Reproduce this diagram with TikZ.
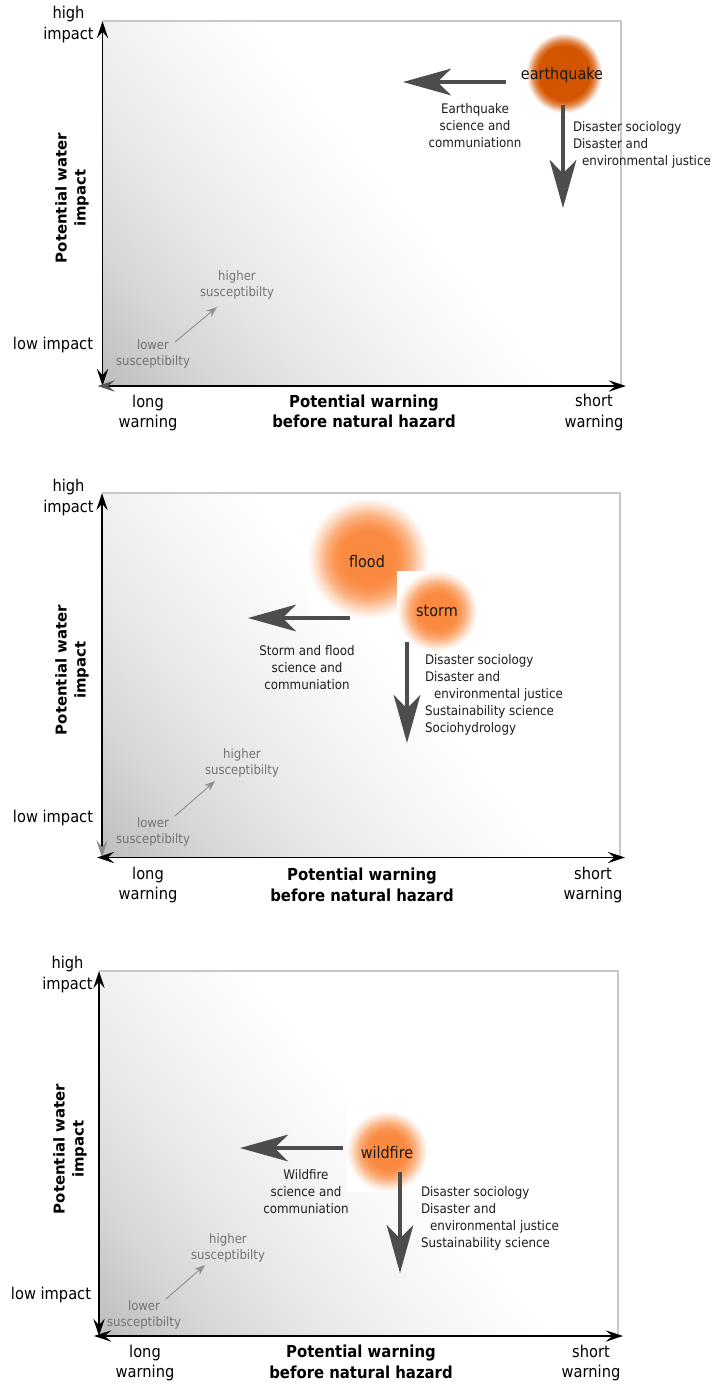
\documentclass[tikz,border=0pt]{standalone}
\usepackage{fontspec}
\setmainfont{DejaVu Sans}[FakeStretch=0.9]
\newfontfamily\widefont{DejaVu Sans}
\usetikzlibrary{arrows.meta}
\definecolor{quake}{RGB}{212,85,0}
\definecolor{fire}{RGB}{250,138,64}
\definecolor{bgA}{gray}{0.74}
\definecolor{bgB}{gray}{0.84}
\definecolor{bgC}{gray}{0.91}
\definecolor{bgD}{gray}{0.96}
\definecolor{framegray}{RGB}{200,200,200}
\definecolor{bigarrow}{RGB}{77,77,77}
\definecolor{susgray}{RGB}{115,115,115}
\definecolor{desctext}{RGB}{30,30,30}
\definecolor{tipgrayA}{RGB}{85,85,85}
\definecolor{tipgrayB}{RGB}{140,140,140}
\pgfdeclarehorizontalshading{bgfade}{100bp}{color(0bp)=(bgA); color(50bp)=(bgA); color(54bp)=(bgB); color(58bp)=(bgC); color(62bp)=(bgD); color(66bp)=(white); color(100bp)=(white)}
\pgfdeclareradialshading{quakeblob}{\pgfpoint{0bp}{0bp}}{color(0bp)=(quake); color(17bp)=(quake); color(20bp)=(quake!75!white); color(23bp)=(quake!30!white); color(25bp)=(white); color(50bp)=(white)}
\pgfdeclareradialshading{fireblob}{\pgfpoint{0bp}{0bp}}{color(0bp)=(fire); color(11bp)=(fire); color(14bp)=(fire!90!white); color(18bp)=(fire!65!white); color(21bp)=(fire!35!white); color(24bp)=(fire!10!white); color(25.5bp)=(white); color(50bp)=(white)}
\tikzset{
  every node/.style={inner sep=0pt, outer sep=0pt},
  tick/.style={font=\fontsize{12.2pt}{15.5pt}\selectfont, align=center, text=black},
  axtitle/.style={font=\fontsize{12.4pt}{15.4pt}\selectfont\bfseries, align=center, text=black},
  ytitle/.style={font=\widefont\fontsize{11.2pt}{14.2pt}\selectfont\bfseries, align=center, text=black, rotate=90},
  desc/.style={font=\fontsize{9.9pt}{12.75pt}\selectfont, text=desctext},
  sus/.style={font=\fontsize{9.75pt}{12pt}\selectfont, text=susgray, align=center},
  hazard/.style={font=\fontsize{12pt}{14pt}\selectfont, text=black!90},
  axisline/.style={line width=1.1pt, draw=black},
  frameline/.style={draw=framegray, line width=1.1pt},
  bigarr/.style={draw=bigarrow, line width=2.4pt, -{Stealth[length=36pt,width=20pt,inset=10pt]}},
  susarr/.style={draw=susgray!80, line width=0.7pt, -{Stealth[length=8pt,width=6pt,inset=2.5pt]}},
}
\newcommand{\axtip}[1]{Stealth[length=13pt,width=8.5pt,inset=5pt,color=#1]}
\begin{document}
\begin{tikzpicture}[x=0.75pt, y=-0.75pt]
\useasboundingbox (0,0) rectangle (713,1384);
\fill[white] (0,0) rectangle (713,1384);

% ================= Panel 1 =================
\begin{scope}
\clip (102.5,21) rectangle (621,386);
\shade[shading=bgfade, shading angle=40] (-447.5,-164) rectangle (652.5,936);
\end{scope}
\draw[frameline] (102.5,21) -- (621,21) -- (621,386);
\coordinate (p1yb) at (102.5,386);
\coordinate (p1yt) at (102.5,21);
\coordinate (p1xl) at (97.5,386);
\coordinate (p1xr) at (626,386);
\draw[axisline, {\axtip{black}}-{\axtip{black}}] (p1yb) -- (p1yt);
\draw[axisline, {\axtip{tipgrayA}}-{\axtip{black}}] (p1xl) -- (p1xr);
\node[tick] (p1high) at (68.5,24.5) {high\\impact};
\node[tick] (p1low) at (53,345) {low impact};
\node[tick] (p1long) at (148,413) {long\\warning};
\node[axtitle] (p1xt) at (364,411.5) {Potential warning\\before natural hazard};
\node[tick] (p1short) at (594,412.5) {short\\warning};
\node[ytitle] (p1ytl) at (72,198) {Potential water\\impact};
\node[sus] (p1lower) at (153,354) {lower\\susceptibilty};
\node[sus] (p1higher) at (237,285) {higher\\susceptibilty};
\coordinate (p1sa) at (175,342);
\coordinate (p1sb) at (217,307);
\draw[susarr] (p1sa) -- (p1sb);
\shade[shading=quakeblob] (526,33) rectangle (602,113);
\node[hazard] (p1eq) at (562,75) {earthquake};
\coordinate (p1la) at (506,82);
\coordinate (p1lb) at (403,82);
\draw[bigarr] (p1la) -- (p1lb);
\coordinate (p1da) at (563,105);
\coordinate (p1db) at (563,208);
\draw[bigarr] (p1da) -- (p1db);
\node[desc, align=center] (p1ld) at (475,126) {Earthquake\\science and\\communiationn};
\node[desc, align=left, anchor=west] (p1rd) at (573,145) {Disaster sociology\\Disaster and\\\hspace*{6.75pt}environmental justice};

% ================= Panel 2 =================
\begin{scope}
\clip (102,493) rectangle (620,857.5);
\shade[shading=bgfade, shading angle=40] (-448,307.5) rectangle (652,1407.5);
\end{scope}
\draw[frameline] (102,493) -- (620,493) -- (620,857.5);
\coordinate (p2yb) at (102,857.5);
\coordinate (p2yt) at (102,493);
\coordinate (p2xl) at (97,857.5);
\coordinate (p2xr) at (625,857.5);
\draw[axisline, {\axtip{tipgrayB}}-{\axtip{black}}] (p2yb) -- (p2yt);
\draw[axisline, {\axtip{black}}-{\axtip{black}}] (p2xl) -- (p2xr);
\node[tick] (p2high) at (68.5,497.5) {high\\impact};
\node[tick] (p2low) at (53,818) {low impact};
\node[tick] (p2long) at (148,885) {long\\warning};
\node[axtitle] (p2xt) at (362,885) {Potential warning\\before natural hazard};
\node[tick] (p2short) at (593,885) {short\\warning};
\node[ytitle] (p2ytl) at (72,670) {Potential water\\impact};
\node[sus] (p2lower) at (153,832) {lower\\susceptibilty};
\node[sus] (p2higher) at (242,762.5) {higher\\susceptibilty};
\coordinate (p2sa) at (175,816);
\coordinate (p2sb) at (215,781);
\draw[susarr] (p2sa) -- (p2sb);
\shade[shading=fireblob] (308,498) rectangle (428,618);
\node[hazard] (p2flood) at (367,562) {flood};
\shade[shading=fireblob] (397,571) rectangle (477,651);
\node[hazard] (p2storm) at (437,611) {storm};
\coordinate (p2la) at (350,618);
\coordinate (p2lb) at (248,618);
\draw[bigarr] (p2la) -- (p2lb);
\coordinate (p2da) at (407,642);
\coordinate (p2db) at (407,743);
\draw[bigarr] (p2da) -- (p2db);
\node[desc, align=center] (p2ld) at (307,668) {Storm and flood\\science and\\communiation};
\node[desc, align=left, anchor=west] (p2rd) at (425,695) {Disaster sociology\\Disaster and\\\hspace*{6.75pt}environmental justice\\Sustainability science\\Sociohydrology};

% ================= Panel 3 =================
\begin{scope}
\clip (99,971) rectangle (618,1336);
\shade[shading=bgfade, shading angle=40] (-451,786) rectangle (649,1886);
\end{scope}
\draw[frameline] (99,971) -- (618,971) -- (618,1336);
\coordinate (p3yb) at (99,1336);
\coordinate (p3yt) at (99,971);
\coordinate (p3xl) at (94,1336);
\coordinate (p3xr) at (623,1336);
\draw[axisline, {\axtip{black}}-{\axtip{black}}] (p3yb) -- (p3yt);
\draw[axisline, {\axtip{black}}-{\axtip{black}}] (p3xl) -- (p3xr);
\node[tick] (p3high) at (67.5,974.5) {high\\impact};
\node[tick] (p3low) at (51,1295) {low impact};
\node[tick] (p3long) at (145,1363) {long\\warning};
\node[axtitle] (p3xt) at (361,1362) {Potential warning\\before natural hazard};
\node[tick] (p3short) at (591,1363) {short\\warning};
\node[ytitle] (p3ytl) at (70,1149) {Potential water\\impact};
\node[sus] (p3lower) at (144,1315) {lower\\susceptibilty};
\node[sus] (p3higher) at (228,1247.5) {higher\\susceptibilty};
\coordinate (p3sa) at (166,1299);
\coordinate (p3sb) at (205,1265);
\draw[susarr] (p3sa) -- (p3sb);
\shade[shading=fireblob] (347,1111) rectangle (427,1191);
\node[hazard] (p3wf) at (387,1153) {wildfire};
\coordinate (p3la) at (343,1148);
\coordinate (p3lb) at (240,1148);
\draw[bigarr] (p3la) -- (p3lb);
\coordinate (p3da) at (400,1172);
\coordinate (p3db) at (400,1273);
\draw[bigarr] (p3da) -- (p3db);
\node[desc, align=center] (p3ld) at (306,1192) {Wildfire\\science and\\communiation};
\node[desc, align=left, anchor=west] (p3rd) at (421,1218) {Disaster sociology\\Disaster and\\\hspace*{6.75pt}environmental justice\\Sustainability science};
\end{tikzpicture}
\end{document}
